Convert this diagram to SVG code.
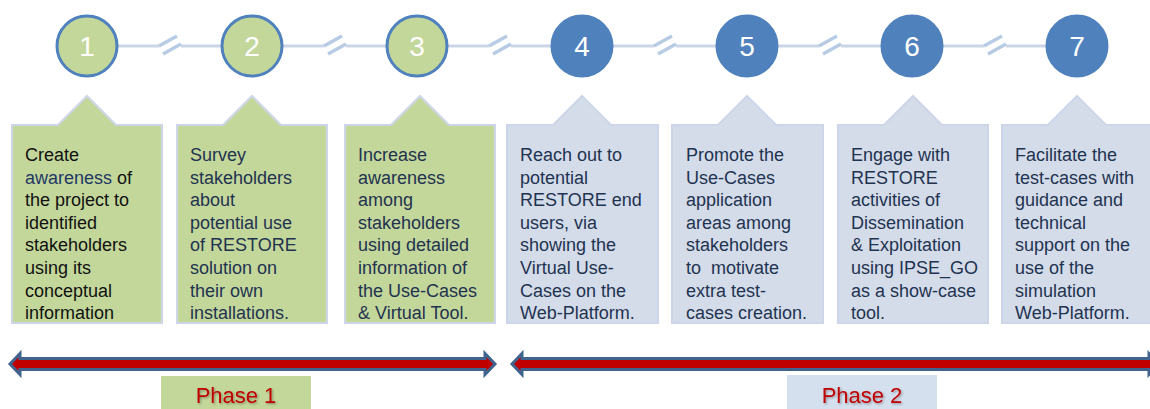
<svg xmlns="http://www.w3.org/2000/svg" width="1150" height="409" viewBox="0 0 1150 409">
  <style>
    .link { stroke: #CBD5E8; stroke-width: 3; fill: none; }
    .brk { stroke: #B7CCE4; stroke-width: 3.5; fill: none; }
    .c-green { fill: #C4D79B; stroke: #4F81BD; stroke-width: 3; }
    .c-blue { fill: #4F81BD; stroke: #4F81BD; stroke-width: 3; }
    .num { font-family: "Liberation Sans", Arial, sans-serif; font-size: 28px; fill: #FFFFFF; text-anchor: middle; }
    .box-green { fill: #C4D79B; stroke: #CDD6E8; stroke-width: 2; }
    .box-blue { fill: #D4DCEA; stroke: #CDD6E8; stroke-width: 2; }
    .txt { font-family: "Liberation Sans", Arial, sans-serif; font-size: 18px; fill: #1F3350; }
    .txt-dark { fill: #111111; }
    .hl { fill: #1F3864; }
    .arrow { fill: #C00000; stroke: #41648F; stroke-width: 3; stroke-linejoin: miter; }
    .phase { font-family: "Liberation Sans", Arial, sans-serif; font-size: 22px; fill: #C00000; text-anchor: middle; filter: url(#shadow); }
  </style>
  <defs>
    <filter id="shadow" x="-20%" y="-40%" width="140%" height="180%">
      <feDropShadow dx="1.2" dy="1.2" stdDeviation="0.8" flood-color="#000000" flood-opacity="0.35"/>
    </filter>
  </defs>

  <!-- timeline links with break marks -->
  <g id="connectors">
    <path class="link" d="M118,46 H159 M181,46 H221"/>
    <path class="brk" d="M159,46 L177,36 M163,54 L181,44"/>
    <path class="link" d="M283,46 H324 M346,46 H386"/>
    <path class="brk" d="M324,46 L342,36 M328,54 L346,44"/>
    <path class="link" d="M448,46 H489 M511,46 H551"/>
    <path class="brk" d="M489,46 L507,36 M493,54 L511,44"/>
    <path class="link" d="M613,46 H654 M676,46 H716"/>
    <path class="brk" d="M654,46 L672,36 M658,54 L676,44"/>
    <path class="link" d="M778,46 H819 M841,46 H881"/>
    <path class="brk" d="M819,46 L837,36 M823,54 L841,44"/>
    <path class="link" d="M943,46 H984 M1006,46 H1046"/>
    <path class="brk" d="M984,46 L1002,36 M988,54 L1006,44"/>
  </g>

  <!-- step 1 -->
  <g id="step1">
    <circle class="c-green" cx="87" cy="46" r="30"/>
    <text class="num" x="87" y="56">1</text>
    <path class="box-green" d="M12,125 H58 L87,96 L116,125 H162 V323 H12 Z"/>
    <text class="txt txt-dark" x="25" y="161">
      <tspan x="25">Create</tspan>
      <tspan x="25" dy="22.6"><tspan class="hl">awareness</tspan> of</tspan>
      <tspan x="25" dy="22.6">the project to</tspan>
      <tspan x="25" dy="22.6">identified</tspan>
      <tspan x="25" dy="22.6">stakeholders</tspan>
      <tspan x="25" dy="22.6">using its</tspan>
      <tspan x="25" dy="22.6">conceptual</tspan>
      <tspan x="25" dy="22.6">information</tspan>
    </text>
  </g>

  <!-- step 2 -->
  <g id="step2">
    <circle class="c-green" cx="252" cy="46" r="30"/>
    <text class="num" x="252" y="56">2</text>
    <path class="box-green" d="M177,125 H223 L252,96 L281,125 H327 V323 H177 Z"/>
    <text class="txt" x="190" y="161">
      <tspan x="190">Survey</tspan>
      <tspan x="190" dy="22.6">stakeholders</tspan>
      <tspan x="190" dy="22.6">about</tspan>
      <tspan x="190" dy="22.6">potential use</tspan>
      <tspan x="190" dy="22.6">of RESTORE</tspan>
      <tspan x="190" dy="22.6">solution on</tspan>
      <tspan x="190" dy="22.6">their own</tspan>
      <tspan x="190" dy="22.6">installations.</tspan>
    </text>
  </g>

  <!-- step 3 -->
  <g id="step3">
    <circle class="c-green" cx="417" cy="46" r="30"/>
    <text class="num" x="417" y="56">3</text>
    <path class="box-green" d="M345,125 H391 L420,96 L449,125 H495 V323 H345 Z"/>
    <text class="txt" x="358" y="161">
      <tspan x="358">Increase</tspan>
      <tspan x="358" dy="22.6">awareness</tspan>
      <tspan x="358" dy="22.6">among</tspan>
      <tspan x="358" dy="22.6">stakeholders</tspan>
      <tspan x="358" dy="22.6">using detailed</tspan>
      <tspan x="358" dy="22.6">information of</tspan>
      <tspan x="358" dy="22.6">the Use-Cases</tspan>
      <tspan x="358" dy="22.6">&amp; Virtual Tool.</tspan>
    </text>
  </g>

  <!-- step 4 -->
  <g id="step4">
    <circle class="c-blue" cx="582" cy="46" r="30"/>
    <text class="num" x="582" y="56">4</text>
    <path class="box-blue" d="M507,125 H553 L582,96 L611,125 H658 V323 H507 Z"/>
    <text class="txt" x="520" y="161">
      <tspan x="520">Reach out to</tspan>
      <tspan x="520" dy="22.6">potential</tspan>
      <tspan x="520" dy="22.6">RESTORE end</tspan>
      <tspan x="520" dy="22.6">users, via</tspan>
      <tspan x="520" dy="22.6">showing the</tspan>
      <tspan x="520" dy="22.6">Virtual Use-</tspan>
      <tspan x="520" dy="22.6">Cases on the</tspan>
      <tspan x="520" dy="22.6">Web-Platform.</tspan>
    </text>
  </g>

  <!-- step 5 -->
  <g id="step5">
    <circle class="c-blue" cx="747" cy="46" r="30"/>
    <text class="num" x="747" y="56">5</text>
    <path class="box-blue" d="M672,125 H718 L747,96 L776,125 H823 V323 H672 Z"/>
    <text class="txt" x="686" y="161">
      <tspan x="686">Promote the</tspan>
      <tspan x="686" dy="22.6">Use-Cases</tspan>
      <tspan x="686" dy="22.6">application</tspan>
      <tspan x="686" dy="22.6">areas among</tspan>
      <tspan x="686" dy="22.6">stakeholders</tspan>
      <tspan x="686" dy="22.6" style="white-space:pre">to  motivate</tspan>
      <tspan x="686" dy="22.6">extra test-</tspan>
      <tspan x="686" dy="22.6">cases creation.</tspan>
    </text>
  </g>

  <!-- step 6 -->
  <g id="step6">
    <circle class="c-blue" cx="912" cy="46" r="30"/>
    <text class="num" x="912" y="56">6</text>
    <path class="box-blue" d="M838,125 H884 L913,96 L942,125 H988 V323 H838 Z"/>
    <text class="txt" x="851" y="161">
      <tspan x="851">Engage with</tspan>
      <tspan x="851" dy="22.6">RESTORE</tspan>
      <tspan x="851" dy="22.6">activities of</tspan>
      <tspan x="851" dy="22.6">Dissemination</tspan>
      <tspan x="851" dy="22.6">&amp; Exploitation</tspan>
      <tspan x="851" dy="22.6">using IPSE_GO</tspan>
      <tspan x="851" dy="22.6">as a show-case</tspan>
      <tspan x="851" dy="22.6">tool.</tspan>
    </text>
  </g>

  <!-- step 7 -->
  <g id="step7">
    <circle class="c-blue" cx="1077" cy="46" r="30"/>
    <text class="num" x="1077" y="56">7</text>
    <path class="box-blue" d="M1002,125 H1048 L1077,96 L1106,125 H1152 V323 H1002 Z"/>
    <text class="txt" x="1015" y="161">
      <tspan x="1015">Facilitate the</tspan>
      <tspan x="1015" dy="22.6">test-cases with</tspan>
      <tspan x="1015" dy="22.6">guidance and</tspan>
      <tspan x="1015" dy="22.6">technical</tspan>
      <tspan x="1015" dy="22.6">support on the</tspan>
      <tspan x="1015" dy="22.6">use of the</tspan>
      <tspan x="1015" dy="22.6">simulation</tspan>
      <tspan x="1015" dy="22.6">Web-Platform.</tspan>
    </text>
  </g>

  <!-- phase spans -->
  <g id="phase1">
    <path class="arrow" d="M10,364 L20,353.5 V358.5 H485 V353.5 L495,364 L485,374.5 V369.5 H20 V374.5 Z"/>
    <rect x="161" y="376" width="150" height="34" fill="#C4D79B"/>
    <text class="phase" x="236" y="403">Phase 1</text>
  </g>
  <g id="phase2">
    <path class="arrow" d="M512,364 L522,353.5 V358.5 H1149 V353.5 L1160,364 L1149,374.5 V369.5 H522 V374.5 Z"/>
    <rect x="787" y="375" width="150" height="35" fill="#D5E0EE"/>
    <text class="phase" x="862" y="403">Phase 2</text>
  </g>
</svg>
